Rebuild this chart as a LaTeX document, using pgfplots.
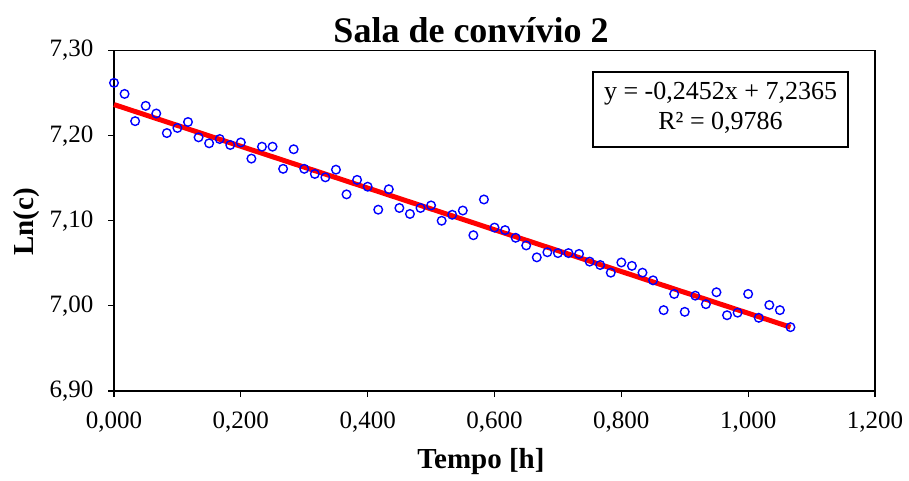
\documentclass[border=0pt]{standalone}
\usepackage{fontspec}
\setmainfont{Liberation Serif}
\usepackage{pgfplots}
\pgfplotsset{compat=1.18}

% Ln(c) measured once a minute
\pgfplotstableread{
t lnc
0.00000 7.262
0.01667 7.249
0.03333 7.217
0.05000 7.235
0.06667 7.226
0.08333 7.203
0.10000 7.209
0.11667 7.216
0.13333 7.198
0.15000 7.191
0.16667 7.196
0.18333 7.189
0.20000 7.192
0.21667 7.173
0.23333 7.187
0.25000 7.187
0.26667 7.161
0.28333 7.184
0.30000 7.161
0.31667 7.155
0.33333 7.151
0.35000 7.160
0.36667 7.131
0.38333 7.148
0.40000 7.140
0.41667 7.113
0.43333 7.137
0.45000 7.115
0.46667 7.108
0.48333 7.115
0.50000 7.118
0.51667 7.100
0.53333 7.107
0.55000 7.112
0.56667 7.083
0.58333 7.125
0.60000 7.092
0.61667 7.089
0.63333 7.080
0.65000 7.071
0.66667 7.057
0.68333 7.063
0.70000 7.062
0.71667 7.062
0.73333 7.061
0.75000 7.052
0.76667 7.048
0.78333 7.039
0.80000 7.051
0.81667 7.047
0.83333 7.039
0.85000 7.030
0.86667 6.995
0.88333 7.014
0.90000 6.993
0.91667 7.012
0.93333 7.002
0.95000 7.016
0.96667 6.989
0.98333 6.992
1.00000 7.014
1.01667 6.986
1.03333 7.001
1.05000 6.995
1.06667 6.975
}\salatable

\begin{document}
\begin{tikzpicture}
\path[use as bounding box] (-114pt,-89pt) rectangle (795pt,391pt);
\begin{axis}[
  at={(0pt,0pt)}, anchor=south west,
  scale only axis, width=761pt, height=340.5pt,
  xmin=0, xmax=1.2, ymin=6.9, ymax=7.3,
  xtick={0,0.2,0.4,0.6,0.8,1.0,1.2},
  ytick={6.9,7.0,7.1,7.2,7.3},
  tick align=outside, tick pos=left,
  major tick length=6pt,
  tick style={black, line width=1.2pt},
  axis line style={line width=1.6pt},
  xticklabel style={font=\fontsize{25}{30}\selectfont, yshift=-11pt,
    /pgf/number format/.cd, fixed, fixed zerofill, precision=3, use comma, assume math mode=true},
  yticklabel style={font=\fontsize{25}{30}\selectfont, xshift=-11pt,
    /pgf/number format/.cd, fixed, fixed zerofill, precision=2, use comma, assume math mode=true},
  scaled ticks=false,
  clip=false,
]
  % trend line y = -0,2452x + 7,2365
  \addplot[red, line width=5pt] coordinates {(0,7.2365) (1.06667,6.9750)};
  \addplot[only marks, blue, mark=o, mark size=4.3pt, line width=1.4pt] table[x=t, y=lnc] {\salatable};
\end{axis}
\node[font=\bfseries\fontsize{36}{40}\selectfont] at (357pt,361pt) {Sala de convívio 2};
\node[font=\bfseries\fontsize{29}{34}\selectfont] at (367pt,-71pt) {Tempo [h]};
\node[font=\bfseries\fontsize{29}{34}\selectfont, rotate=90] at (-87pt,169pt) {Ln(c)};
\draw[line width=1.3pt, fill=white] (479pt,244pt) rectangle (734pt,319pt);
\node[font=\fontsize{26}{30}\selectfont] at (606.5pt,297.7pt) {y = -0,2452x + 7,2365};
\node[font=\fontsize{26}{30}\selectfont] at (606.5pt,267.7pt) {R² = 0,9786};
\end{tikzpicture}
\end{document}
